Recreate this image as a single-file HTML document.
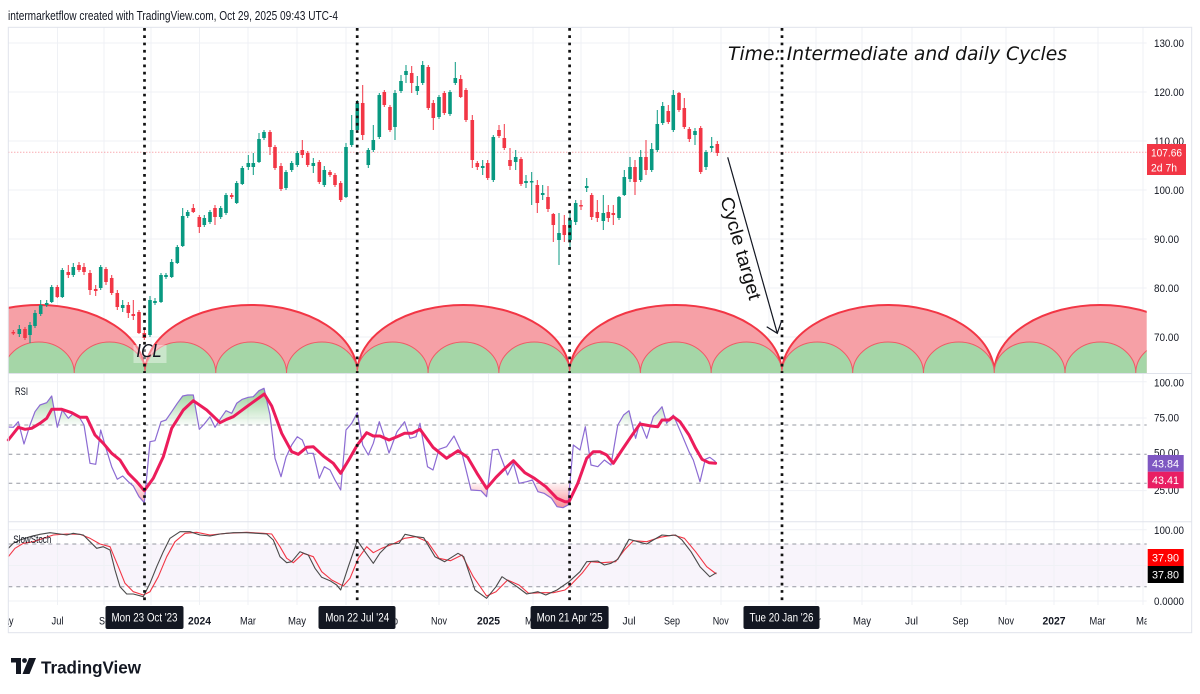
<!DOCTYPE html>
<html><head><meta charset="utf-8"><style>
html,body{margin:0;padding:0;background:#fff;}
svg{display:block;}
</style></head><body>
<svg width="1200" height="694" viewBox="0 0 1200 694" xmlns="http://www.w3.org/2000/svg" font-family="'Liberation Sans', Arial, sans-serif">
<defs>
<clipPath id="cm"><rect x="8.3" y="27.3" width="1138.4" height="346"/></clipPath>
<clipPath id="ca"><rect x="8.3" y="27.3" width="1138.4" height="580"/></clipPath>
<clipPath id="cg"><rect x="8.3" y="374" width="1138.4" height="51"/></clipPath>
<clipPath id="cr"><rect x="8.3" y="483.3" width="1138.4" height="38"/></clipPath>
<clipPath id="ct"><rect x="8.3" y="605" width="1138.4" height="27"/></clipPath>
<linearGradient id="gg" x1="0" y1="386" x2="0" y2="425" gradientUnits="userSpaceOnUse"><stop offset="0" stop-color="#4CAF50" stop-opacity="0.65"/><stop offset="1" stop-color="#4CAF50" stop-opacity="0.03"/></linearGradient>
<linearGradient id="rg" x1="0" y1="483" x2="0" y2="510" gradientUnits="userSpaceOnUse"><stop offset="0" stop-color="#F23645" stop-opacity="0.05"/><stop offset="1" stop-color="#F23645" stop-opacity="0.6"/></linearGradient>
</defs>

<!-- header -->
<text x="8" y="20" font-size="12.5" fill="#131722" textLength="330" lengthAdjust="spacingAndGlyphs">intermarketflow created with TradingView.com, Oct 29, 2025 09:43 UTC-4</text>

<!-- stoch band -->
<rect x="8.3" y="544" width="1138.4" height="42.7" fill="#F8F4FB"/>

<!-- gridlines -->
<g stroke="#EFF1F5" stroke-width="1" clip-path="url(#ca)">
<path d="M57.5 27V605M104 27V605M151 27V605M199.5 27V605M248 27V605M297 27V605M346 27V605M392 27V605M439 27V605M488.5 27V605M533 27V605M581 27V605M629 27V605M673 27V605M721 27V605M769 27V605M816 27V605M862 27V605M912 27V605M961 27V605M1006 27V605M1054 27V605M1098 27V605M1143 27V605"/>
<path d="M8 43H1147M8 92H1147M8 141H1147M8 190H1147M8 239H1147M8 288H1147M8 337H1147M8 381.7H1147M8 418H1147M8 490.6H1147M8 529.8H1147M8 565.5H1147M8 601H1147"/>
</g>

<!-- arcs -->
<g clip-path="url(#cm)">
<path d="M-67.3 373A106.15 68 0 0 1 145 373ZM145 373A106.15 68 0 0 1 357.3 373ZM357.3 373A106.15 68 0 0 1 569.6 373ZM569.6 373A106.15 68 0 0 1 781.9 373ZM781.9 373A106.15 68 0 0 1 994.2 373ZM994.2 373A106.15 68 0 0 1 1206.5 373Z" fill="#F6A0A6"/>
<path d="M-67.3 373A106.15 68 0 0 1 145 373M145 373A106.15 68 0 0 1 357.3 373M357.3 373A106.15 68 0 0 1 569.6 373M569.6 373A106.15 68 0 0 1 781.9 373M781.9 373A106.15 68 0 0 1 994.2 373M994.2 373A106.15 68 0 0 1 1206.5 373" fill="none" stroke="#F23645" stroke-width="2"/>
<path d="M3.46 373A35.385 31 0 0 1 74.23 373ZM74.23 373A35.385 31 0 0 1 145 373ZM145 373A35.385 31 0 0 1 215.77 373ZM215.77 373A35.385 31 0 0 1 286.54 373ZM286.54 373A35.385 31 0 0 1 357.31 373ZM357.31 373A35.385 31 0 0 1 428.08 373ZM428.08 373A35.385 31 0 0 1 498.85 373ZM498.85 373A35.385 31 0 0 1 569.62 373ZM569.62 373A35.385 31 0 0 1 640.39 373ZM640.39 373A35.385 31 0 0 1 711.16 373ZM711.16 373A35.385 31 0 0 1 781.93 373ZM781.93 373A35.385 31 0 0 1 852.7 373ZM852.7 373A35.385 31 0 0 1 923.47 373ZM923.47 373A35.385 31 0 0 1 994.24 373ZM994.24 373A35.385 31 0 0 1 1065.01 373ZM1065.01 373A35.385 31 0 0 1 1135.78 373ZM1135.78 373A35.385 31 0 0 1 1206.55 373Z" fill="#A5D6A7"/>
<path d="M3.46 373A35.385 31 0 0 1 74.23 373M74.23 373A35.385 31 0 0 1 145 373M145 373A35.385 31 0 0 1 215.77 373M215.77 373A35.385 31 0 0 1 286.54 373M286.54 373A35.385 31 0 0 1 357.31 373M357.31 373A35.385 31 0 0 1 428.08 373M428.08 373A35.385 31 0 0 1 498.85 373M498.85 373A35.385 31 0 0 1 569.62 373M569.62 373A35.385 31 0 0 1 640.39 373M640.39 373A35.385 31 0 0 1 711.16 373M711.16 373A35.385 31 0 0 1 781.93 373M781.93 373A35.385 31 0 0 1 852.7 373M852.7 373A35.385 31 0 0 1 923.47 373M923.47 373A35.385 31 0 0 1 994.24 373M994.24 373A35.385 31 0 0 1 1065.01 373M1065.01 373A35.385 31 0 0 1 1135.78 373M1135.78 373A35.385 31 0 0 1 1206.55 373" fill="none" stroke="#EF5A66" stroke-width="1"/>
</g>

<!-- price line -->
<path d="M8.3 152.3H1146.7" stroke="#F23645" stroke-opacity="0.6" stroke-width="1" stroke-dasharray="1 2"/>

<!-- candles -->
<g clip-path="url(#cm)">
<path fill="none" stroke="#089981" stroke-width="1" d="M19.3 325V337M30 322V343M35 310V328M40.7 300V316M46.7 300V307M51.7 285V303M62.3 268V298M73.3 263V277M100.7 265V290M122.7 300V312M150 296V337M155 298V305M161 273V303M166 273V279M171.7 259V278M177.3 245V264M182.7 208V247M187.7 210V218M204.3 215V227M210 210V224M220.7 206V219M226 193V215M236.7 181V204M242.3 166V185M248.3 155V170M253.3 153V175M259 133V163M264 130V140M286 170V190M291.7 161V172M297.3 151V167M313.3 158V173M324.3 166V187M346 143V198M351.7 115V147M357.3 100V132M368.3 148V168M373.3 125V152M379.3 93V139M395 90V140M401 75V93M406 65V83M417.3 76V95M422.7 61V85M439 95V119M450 90V116M455.3 62V85M482.7 160V175M493.3 135V182M515.7 150V170M526 175V188M531.7 172V205M542.7 185V200M559 213V265M570 210V250M575.7 200V225M586.7 178V192M603.3 195V230M619 196V220M624.3 170V196M630 157V182M640.7 150V182M651.7 143V172M657.3 110V152M662.7 102V125M673.3 90V132M695 128V145M706 150V170M711.7 137V152"/>
<path fill="#089981" d="M17.5 329h3.6v5h-3.6zM28.2 325h3.6v10h-3.6zM33.2 313h3.6v13h-3.6zM38.9 305h3.6v9h-3.6zM44.9 303h3.6v2h-3.6zM49.9 287h3.6v15h-3.6zM60.5 270h3.6v27h-3.6zM71.5 267h3.6v8h-3.6zM98.9 267h3.6v21h-3.6zM120.9 305h3.6v3h-3.6zM148.2 300h3.6v35h-3.6zM153.2 301h3.6v2h-3.6zM159.2 275h3.6v27h-3.6zM164.2 275h3.6v2h-3.6zM169.9 262h3.6v15h-3.6zM175.5 247h3.6v16h-3.6zM180.9 216h3.6v30h-3.6zM185.9 212h3.6v4h-3.6zM202.5 218h3.6v7h-3.6zM208.2 212h3.6v10h-3.6zM218.9 208h3.6v9h-3.6zM224.2 195h3.6v18h-3.6zM234.9 183h3.6v20h-3.6zM240.5 168h3.6v16h-3.6zM246.5 163h3.6v4h-3.6zM251.5 163h3.6v4h-3.6zM257.2 139h3.6v23h-3.6zM262.2 132h3.6v6h-3.6zM284.2 172h3.6v16h-3.6zM289.9 163h3.6v7h-3.6zM295.5 153h3.6v12h-3.6zM311.5 163h3.6v3h-3.6zM322.5 170h3.6v15h-3.6zM344.2 147h3.6v50h-3.6zM349.9 130h3.6v15h-3.6zM355.5 103h3.6v27h-3.6zM366.5 150h3.6v15h-3.6zM371.5 140h3.6v10h-3.6zM377.5 95h3.6v42h-3.6zM393.2 93h3.6v34h-3.6zM399.2 81h3.6v10h-3.6zM404.2 71h3.6v4h-3.6zM415.5 86h3.6v5h-3.6zM420.9 65h3.6v18h-3.6zM437.2 97h3.6v20h-3.6zM448.2 92h3.6v22h-3.6zM453.5 78h3.6v5h-3.6zM480.9 166h3.6v2h-3.6zM491.5 137h3.6v43h-3.6zM513.9 157h3.6v5h-3.6zM524.2 181h3.6v2h-3.6zM529.9 181h3.6v1.5h-3.6zM540.9 193h3.6v2h-3.6zM557.2 233h3.6v7h-3.6zM568.2 220h3.6v20h-3.6zM573.9 203h3.6v19h-3.6zM584.9 186h3.6v2h-3.6zM601.5 213h3.6v8h-3.6zM617.2 197h3.6v21h-3.6zM622.5 177h3.6v18h-3.6zM628.2 167h3.6v12h-3.6zM638.9 157h3.6v23h-3.6zM649.9 149h3.6v21h-3.6zM655.5 124h3.6v26h-3.6zM660.9 106h3.6v17h-3.6zM671.5 95h3.6v35h-3.6zM693.2 131h3.6v4h-3.6zM704.2 152h3.6v15h-3.6zM709.9 146h3.6v2h-3.6z"/>
<path fill="none" stroke="#F23645" stroke-width="1" d="M13.3 330V335M25 327V340M57.3 285V298M68.3 265V278M79 262V272M84 263V275M90 270V295M95.7 285V296M106 267V285M111.7 275V295M117.3 290V310M128.3 302V318M133.3 300V320M139 310V334M144.3 330V340M193.3 204V213M199.3 215V233M215 205V225M231.7 193V199M270 130V155M275 145V170M281 163V191M302.3 140V158M307.7 151V167M319.3 160V184M330 170V177M335 173V187M340.7 181V202M362.7 85V140M384.3 90V107M390 105V132M411.7 66V93M428.3 65V110M433.3 100V130M444.3 91V115M460.7 75V98M466 88V122M472.3 115V168M477.3 161V170M487.7 160V180M499 125V138M504.3 124V150M510 148V170M521 157V186M537.3 180V213M548 186V212M553.3 213V242M564.3 215V242M581 200V210M591.7 193V220M597.3 200V222M608.3 205V222M613.3 205V225M635 160V195M646 140V175M668.3 105V124M679 92V112M684.3 98V129M689.3 127V142M700.7 126V174M717.3 141V156"/>
<path fill="#F23645" d="M11.5 332h3.6v1.5h-3.6zM23.2 329h3.6v9h-3.6zM55.5 287h3.6v10h-3.6zM66.5 272h3.6v3h-3.6zM77.2 265h3.6v5h-3.6zM82.2 267h3.6v5h-3.6zM88.2 273h3.6v17h-3.6zM93.9 289h3.6v2h-3.6zM104.2 269h3.6v13h-3.6zM109.9 278h3.6v15h-3.6zM115.5 293h3.6v14h-3.6zM126.5 305h3.6v8h-3.6zM131.5 314h3.6v2h-3.6zM137.2 312h3.6v21h-3.6zM142.5 333h3.6v5h-3.6zM191.5 208h3.6v4h-3.6zM197.5 217h3.6v10h-3.6zM213.2 208h3.6v9h-3.6zM229.9 195h3.6v2h-3.6zM268.2 132h3.6v15h-3.6zM273.2 147h3.6v21h-3.6zM279.2 166h3.6v23h-3.6zM300.5 150h3.6v5h-3.6zM305.9 153h3.6v12h-3.6zM317.5 162h3.6v20h-3.6zM328.2 172h3.6v3h-3.6zM333.2 175h3.6v10h-3.6zM338.9 183h3.6v17h-3.6zM360.9 103h3.6v32h-3.6zM382.5 92h3.6v13h-3.6zM388.2 107h3.6v23h-3.6zM409.9 73h3.6v10h-3.6zM426.5 67h3.6v41h-3.6zM431.5 103h3.6v15h-3.6zM442.5 93h3.6v20h-3.6zM458.9 79h3.6v18h-3.6zM464.2 90h3.6v30h-3.6zM470.5 120h3.6v40h-3.6zM475.5 163h3.6v4h-3.6zM485.9 163h3.6v15h-3.6zM497.2 130h3.6v6h-3.6zM502.5 138h3.6v10h-3.6zM508.2 160h3.6v6h-3.6zM519.2 159h3.6v25h-3.6zM535.5 185h3.6v18h-3.6zM546.2 197h3.6v12h-3.6zM551.5 214h3.6v11h-3.6zM562.5 225h3.6v10h-3.6zM579.2 205h3.6v1.5h-3.6zM589.9 195h3.6v22h-3.6zM595.5 212h3.6v6h-3.6zM606.5 212h3.6v6h-3.6zM611.5 213h3.6v2h-3.6zM633.2 167h3.6v15h-3.6zM644.2 157h3.6v13h-3.6zM666.5 111h3.6v11h-3.6zM677.2 93h3.6v17h-3.6zM682.5 108h3.6v19h-3.6zM687.5 129h3.6v10h-3.6zM698.9 128h3.6v44h-3.6zM715.5 144h3.6v9h-3.6z"/>
</g>

<!-- RSI levels -->
<g stroke="#9598A1" stroke-width="1" stroke-dasharray="4 4" fill="none">
<path d="M8.3 425H1146.7M8.3 454.3H1146.7M8.3 483.3H1146.7"/>
<path d="M8.3 544H1146.7M8.3 586.7H1146.7"/>
</g>

<!-- RSI fills -->
<polygon clip-path="url(#cg)" fill="url(#gg)" points="8.3,427 13.3,427.3 18.3,421.7 24,444 30,425 35,411.7 40,405 46.7,402.7 51.7,396 57.3,427.3 62.3,410 68.3,418.3 73.3,413.3 79,416.7 84,425 90,463.3 95.7,464.3 100.7,430 106,448.3 111.7,466.7 117.3,479.3 122.7,476 128.3,481.7 133.3,486 139,496.7 144.3,502.7 150,441.7 155,440.7 161,421.7 166,420 171.7,411.7 177.3,403.3 182.7,396 187.7,395 193.3,395 199.3,429.3 204.3,424 210,416.7 215,427.3 220.7,418.3 226,410.7 231.7,413.3 236.7,403.3 242.3,399.3 248.3,397.3 253.3,396.7 259,390.7 264,388.3 270,415 275,458.3 281,476.7 286,457.3 291.7,445 297.3,436.7 302.3,440 307.7,453.3 313.3,453.3 319.3,478.3 324.3,466.7 330,470 335,480 340.7,490 346,430 351.7,423.3 357.3,412.7 362.7,445 368.3,455 373.3,443.3 379.3,421.7 384.3,437 389,453 397,431.7 404.6,421.7 410,438.3 416,436.7 420,423.3 427.5,466.7 433,470 439,449.3 446.6,446.7 454,436 462,453.3 471,490 481,490.7 486.6,496.7 492.4,450 498,449.3 507.6,475 513.4,463.3 519,483.3 526.7,481.7 532.4,480 538,491.7 544,493.3 551.5,498.3 557,506.7 563,507.7 568,505 573.3,445 580,450 585.3,426.7 591,465 597.8,466.7 604.4,460 611,465 617.8,425 623.6,415 629,410.7 635.6,438.3 640,421.7 646.7,438.3 653.3,416.7 657.8,411.7 662,406.7 666.7,423.3 673.3,415 682,435 689,451.7 693.3,460 700,481.7 705.3,459.3 709.8,457.3 715.6,461.7 715.6,600 8.3,600"/>
<polygon clip-path="url(#cr)" fill="url(#rg)" points="8.3,427 13.3,427.3 18.3,421.7 24,444 30,425 35,411.7 40,405 46.7,402.7 51.7,396 57.3,427.3 62.3,410 68.3,418.3 73.3,413.3 79,416.7 84,425 90,463.3 95.7,464.3 100.7,430 106,448.3 111.7,466.7 117.3,479.3 122.7,476 128.3,481.7 133.3,486 139,496.7 144.3,502.7 150,441.7 155,440.7 161,421.7 166,420 171.7,411.7 177.3,403.3 182.7,396 187.7,395 193.3,395 199.3,429.3 204.3,424 210,416.7 215,427.3 220.7,418.3 226,410.7 231.7,413.3 236.7,403.3 242.3,399.3 248.3,397.3 253.3,396.7 259,390.7 264,388.3 270,415 275,458.3 281,476.7 286,457.3 291.7,445 297.3,436.7 302.3,440 307.7,453.3 313.3,453.3 319.3,478.3 324.3,466.7 330,470 335,480 340.7,490 346,430 351.7,423.3 357.3,412.7 362.7,445 368.3,455 373.3,443.3 379.3,421.7 384.3,437 389,453 397,431.7 404.6,421.7 410,438.3 416,436.7 420,423.3 427.5,466.7 433,470 439,449.3 446.6,446.7 454,436 462,453.3 471,490 481,490.7 486.6,496.7 492.4,450 498,449.3 507.6,475 513.4,463.3 519,483.3 526.7,481.7 532.4,480 538,491.7 544,493.3 551.5,498.3 557,506.7 563,507.7 568,505 573.3,445 580,450 585.3,426.7 591,465 597.8,466.7 604.4,460 611,465 617.8,425 623.6,415 629,410.7 635.6,438.3 640,421.7 646.7,438.3 653.3,416.7 657.8,411.7 662,406.7 666.7,423.3 673.3,415 682,435 689,451.7 693.3,460 700,481.7 705.3,459.3 709.8,457.3 715.6,461.7 715.6,370 8.3,370"/>

<!-- RSI lines -->
<polyline fill="none" stroke="#8C6BD3" stroke-width="1.2" stroke-linejoin="round" points="8.3,427 13.3,427.3 18.3,421.7 24,444 30,425 35,411.7 40,405 46.7,402.7 51.7,396 57.3,427.3 62.3,410 68.3,418.3 73.3,413.3 79,416.7 84,425 90,463.3 95.7,464.3 100.7,430 106,448.3 111.7,466.7 117.3,479.3 122.7,476 128.3,481.7 133.3,486 139,496.7 144.3,502.7 150,441.7 155,440.7 161,421.7 166,420 171.7,411.7 177.3,403.3 182.7,396 187.7,395 193.3,395 199.3,429.3 204.3,424 210,416.7 215,427.3 220.7,418.3 226,410.7 231.7,413.3 236.7,403.3 242.3,399.3 248.3,397.3 253.3,396.7 259,390.7 264,388.3 270,415 275,458.3 281,476.7 286,457.3 291.7,445 297.3,436.7 302.3,440 307.7,453.3 313.3,453.3 319.3,478.3 324.3,466.7 330,470 335,480 340.7,490 346,430 351.7,423.3 357.3,412.7 362.7,445 368.3,455 373.3,443.3 379.3,421.7 384.3,437 389,453 397,431.7 404.6,421.7 410,438.3 416,436.7 420,423.3 427.5,466.7 433,470 439,449.3 446.6,446.7 454,436 462,453.3 471,490 481,490.7 486.6,496.7 492.4,450 498,449.3 507.6,475 513.4,463.3 519,483.3 526.7,481.7 532.4,480 538,491.7 544,493.3 551.5,498.3 557,506.7 563,507.7 568,505 573.3,445 580,450 585.3,426.7 591,465 597.8,466.7 604.4,460 611,465 617.8,425 623.6,415 629,410.7 635.6,438.3 640,421.7 646.7,438.3 653.3,416.7 657.8,411.7 662,406.7 666.7,423.3 673.3,415 682,435 689,451.7 693.3,460 700,481.7 705.3,459.3 709.8,457.3 715.6,461.7"/>
<polyline fill="none" stroke="#EC1C5B" stroke-width="3" stroke-linejoin="round" stroke-linecap="round" points="8.3,440 18.3,427.3 25,429.3 31.7,428.3 40,423.3 46.7,418.3 51.7,409.3 61.7,409.3 71.7,412.7 80,417.3 86.7,417.3 95,435 103.3,443.3 111.7,453.3 120,460 128.3,473.3 136.7,481.7 144.3,490.7 153.3,478.3 163.3,456.7 171.7,428.3 183.3,410 193.3,400.7 206.7,410 220,422.7 226.7,419.3 233.3,416.7 246.7,406.7 264.3,394 271.7,406 281.7,433.3 291.7,451.7 298.3,454.3 306.7,447.3 313.3,446.7 323.3,456 333.3,463.3 340.7,473.3 348.3,460.7 357.3,445 366.7,432.7 373.3,436 380,436 389,440 397,436.7 404.6,433.3 412,433.3 420,429.3 433,447.3 446.6,458.3 458,450.7 467.6,457.3 477,473.3 486.6,488.3 496,477.3 504,469.3 513.4,460.7 524.8,472.7 534.4,478.3 545.8,486.7 557,498.3 565,501.7 569,501.7 577.8,483.3 586.7,458.3 593.3,451.7 600,451.7 606.7,455 613.3,463.3 622,450 631,436.7 640,424 651,426 657.8,426.7 662,420 669,420 673.3,416.7 680,421.7 689,435 695.6,448.3 702,459.3 709,462.7 715.6,463.3"/>

<!-- Stoch lines -->
<polyline fill="none" stroke="#F23645" stroke-width="1.1" stroke-linejoin="round" points="8.3,556.7 15,548.3 23.3,543.3 33.3,541.7 43.3,538.3 53.3,535 66.7,534 80,534.3 90,538.3 100,544 110,546.7 118.3,566.7 125,583.3 133.3,591.7 143.3,595 150,591.7 158.3,576.7 166.7,556.7 175,541.7 185,533.3 196.7,532.3 210,535 226.7,533.3 246.7,532.3 263.3,533.3 271.7,534 280,546.7 286.7,558.3 293.3,562.7 303.3,553.3 313.3,556.7 321.7,571.7 331.7,580 343.3,586 350,578.3 358.3,558.3 366.7,546.7 373.3,552.7 381.7,548.3 393,544 404.6,538.3 416,536.7 427.5,541.7 439,558.3 450.4,560.7 462,555 473.3,576.7 486.6,596 496,591.7 507.6,580 519,585 528.6,593.3 542,592.7 553.4,592.7 565,590 569,586.7 582,573.3 591,561.7 602,562.7 615.6,561.7 624.4,550 633.3,540.7 646.7,541.7 660,537.3 673.3,535 684.4,538.3 695.6,551.7 706.7,566.7 716.4,574"/>
<polyline fill="none" stroke="#4A4A4A" stroke-width="1.1" stroke-linejoin="round" points="8.3,548.3 13.3,543.3 20,540 30,536.7 40,534.3 50,532.7 60,534 66.7,535 73.3,533.3 83.3,535 90,541.7 96.7,548.3 103.3,546.7 110,550 115,570 120,586.7 126.7,594 133.3,594 143.3,596.7 150,583.3 156.7,566.7 163.3,551.7 170,538.3 180,531.7 190,531.7 200,535 210,536 220,534 233.3,532.7 246.7,532.7 256.7,533.3 266.7,534 273.3,540 280,556.7 286.7,562.7 291.7,561.7 300,551.7 308.3,555 315,568.3 321.7,577.3 330,580.7 336.7,585 340.7,590 348.3,566.7 357.3,540.7 365,551.7 373.3,563.3 380,553 389,544 399,543.3 405,534.3 416,536.7 423.7,537.7 435,556.7 444.7,561.7 458,553.3 463.7,556.7 475,590 486.6,598.3 496,586.7 502,576.7 509.5,581.7 517,586.7 526.7,594 538,591.7 545.8,595 557,590 569,581.7 580,571.7 586.7,561.7 597.8,561 604.4,565 611,563.3 617.8,559.3 629,539.3 637.8,541.7 646.7,544 653.3,540 662,535 669,535.7 675.6,535 682,540 691,551.7 700,566.7 709.8,576.7 716.4,572.7"/>

<!-- pane labels -->
<text x="15" y="395" font-size="11" fill="#131722" textLength="13" lengthAdjust="spacingAndGlyphs">RSI</text>
<text x="13.3" y="543" font-size="11" fill="#131722" textLength="38" lengthAdjust="spacingAndGlyphs">SlowStoch</text>

<!-- vertical dotted lines -->
<path d="M144.5 28V604M357.2 28V604M569.6 28V604M782 28V604" stroke="#111" stroke-width="2.7" stroke-dasharray="2.7 4.6" fill="none"/>

<!-- ICL -->
<rect x="133.5" y="345" width="33" height="18" fill="#fff" fill-opacity="0.4"/>
<text x="136.5" y="357" font-family="'DejaVu Sans', 'Liberation Sans', sans-serif" font-size="18" font-style="italic" fill="#131722" textLength="25" lengthAdjust="spacingAndGlyphs">ICL</text>

<!-- title -->
<text x="728" y="60" font-family="'DejaVu Sans', 'Liberation Sans', sans-serif" font-size="19" font-style="italic" fill="#111" textLength="339" lengthAdjust="spacingAndGlyphs">Time: Intermediate and daily Cycles</text>

<!-- arrow -->
<path d="M727.7 157.3L777.3 333.3M766.7 326.7L777.3 333.3L781.7 320.5" fill="none" stroke="#131722" stroke-width="1.2"/>
<text transform="translate(720.3,199) rotate(74)" font-size="18.5" fill="#111" textLength="106" lengthAdjust="spacingAndGlyphs">Cycle target</text>

<!-- borders & separators -->
<g stroke="#E0E3EB" stroke-width="1" fill="none">
<rect x="8.3" y="27.3" width="1183.4" height="605.4"/>
<path d="M8.3 373.5H1191.7M8.3 521.7H1191.7"/>
</g>

<!-- price axis labels -->
<g font-size="11" fill="#131722">
<text x="1154" y="47" textLength="30" lengthAdjust="spacingAndGlyphs">130.00</text>
<text x="1154" y="96" textLength="30" lengthAdjust="spacingAndGlyphs">120.00</text>
<text x="1154" y="145" textLength="30" lengthAdjust="spacingAndGlyphs">110.00</text>
<text x="1154" y="194" textLength="30" lengthAdjust="spacingAndGlyphs">100.00</text>
<text x="1154" y="243" textLength="25" lengthAdjust="spacingAndGlyphs">90.00</text>
<text x="1154" y="292" textLength="25" lengthAdjust="spacingAndGlyphs">80.00</text>
<text x="1154" y="341" textLength="25" lengthAdjust="spacingAndGlyphs">70.00</text>
<text x="1154" y="386.7" textLength="30" lengthAdjust="spacingAndGlyphs">100.00</text>
<text x="1154" y="421.7" textLength="25" lengthAdjust="spacingAndGlyphs">75.00</text>
<text x="1154" y="456.7" textLength="25" lengthAdjust="spacingAndGlyphs">50.00</text>
<text x="1154" y="494" textLength="25" lengthAdjust="spacingAndGlyphs">25.00</text>
<text x="1154" y="534" textLength="30" lengthAdjust="spacingAndGlyphs">100.00</text>
<text x="1154" y="605" textLength="30" lengthAdjust="spacingAndGlyphs">0.0000</text>
</g>

<!-- value boxes -->
<rect x="1147" y="144" width="39" height="31" fill="#F23645"/>
<text x="1151" y="156.5" font-size="11" fill="#fff" textLength="31" lengthAdjust="spacingAndGlyphs">107.66</text>
<text x="1151" y="171.5" font-size="11" fill="#fff" textLength="26" lengthAdjust="spacingAndGlyphs">2d 7h</text>
<rect x="1147.7" y="455" width="36" height="16.7" fill="#7E57C2"/>
<text x="1152" y="467.5" font-size="11" fill="#fff" textLength="27" lengthAdjust="spacingAndGlyphs">43.84</text>
<rect x="1147.7" y="471.7" width="36" height="16.6" fill="#E91E63"/>
<text x="1152" y="484" font-size="11" fill="#fff" textLength="27" lengthAdjust="spacingAndGlyphs">43.41</text>
<rect x="1147.7" y="549" width="36" height="17" fill="#FF0000"/>
<text x="1152" y="561.5" font-size="11" fill="#fff" textLength="27" lengthAdjust="spacingAndGlyphs">37.90</text>
<rect x="1147.7" y="566" width="36" height="17" fill="#000"/>
<text x="1152" y="578.5" font-size="11" fill="#fff" textLength="27" lengthAdjust="spacingAndGlyphs">37.80</text>

<!-- time axis labels -->
<g clip-path="url(#ct)" font-size="11" fill="#131722" text-anchor="middle">
<text x="5" y="624.7" textLength="17" lengthAdjust="spacingAndGlyphs">May</text>
<text x="57.5" y="624.7" textLength="12" lengthAdjust="spacingAndGlyphs">Jul</text>
<text x="107" y="624.7" textLength="16" lengthAdjust="spacingAndGlyphs">Sep</text>
<text x="151" y="624.7" textLength="16" lengthAdjust="spacingAndGlyphs">Nov</text>
<text x="199.5" y="624.7" font-weight="bold" textLength="23" lengthAdjust="spacingAndGlyphs">2024</text>
<text x="248" y="624.7" textLength="16" lengthAdjust="spacingAndGlyphs">Mar</text>
<text x="297" y="624.7" textLength="18" lengthAdjust="spacingAndGlyphs">May</text>
<text x="346" y="624.7" textLength="12" lengthAdjust="spacingAndGlyphs">Jul</text>
<text x="390" y="624.7" textLength="16" lengthAdjust="spacingAndGlyphs">Sep</text>
<text x="439" y="624.7" textLength="16" lengthAdjust="spacingAndGlyphs">Nov</text>
<text x="488.5" y="624.7" font-weight="bold" textLength="23" lengthAdjust="spacingAndGlyphs">2025</text>
<text x="533" y="624.7" textLength="16" lengthAdjust="spacingAndGlyphs">Mar</text>
<text x="581" y="624.7" textLength="18" lengthAdjust="spacingAndGlyphs">May</text>
<text x="629" y="624.7" textLength="13" lengthAdjust="spacingAndGlyphs">Jul</text>
<text x="672" y="624.7" textLength="16" lengthAdjust="spacingAndGlyphs">Sep</text>
<text x="720.7" y="624.7" textLength="16" lengthAdjust="spacingAndGlyphs">Nov</text>
<text x="769" y="624.7" font-weight="bold" textLength="23" lengthAdjust="spacingAndGlyphs">2026</text>
<text x="813" y="624.7" textLength="16" lengthAdjust="spacingAndGlyphs">Mar</text>
<text x="862" y="624.7" textLength="18" lengthAdjust="spacingAndGlyphs">May</text>
<text x="911.5" y="624.7" textLength="13" lengthAdjust="spacingAndGlyphs">Jul</text>
<text x="960.5" y="624.7" textLength="16" lengthAdjust="spacingAndGlyphs">Sep</text>
<text x="1006" y="624.7" textLength="16" lengthAdjust="spacingAndGlyphs">Nov</text>
<text x="1054" y="624.7" font-weight="bold" textLength="23" lengthAdjust="spacingAndGlyphs">2027</text>
<text x="1097.5" y="624.7" textLength="16" lengthAdjust="spacingAndGlyphs">Mar</text>
<text x="1145" y="624.7" textLength="18" lengthAdjust="spacingAndGlyphs">May</text>
</g>

<!-- date boxes -->
<g font-size="11.5" fill="#fff" text-anchor="middle">
<rect x="105.5" y="606" width="78" height="23" rx="2" fill="#131722"/>
<text x="144.5" y="621.5" textLength="66" lengthAdjust="spacingAndGlyphs">Mon 23 Oct '23</text>
<rect x="318.5" y="606" width="77" height="23" rx="2" fill="#131722"/>
<text x="357.2" y="621.5" textLength="64" lengthAdjust="spacingAndGlyphs">Mon 22 Jul '24</text>
<rect x="530.6" y="606" width="78" height="23" rx="2" fill="#131722"/>
<text x="569.6" y="621.5" textLength="66" lengthAdjust="spacingAndGlyphs">Mon 21 Apr '25</text>
<rect x="743.5" y="606" width="76" height="23" rx="2" fill="#131722"/>
<text x="781.5" y="621.5" textLength="64" lengthAdjust="spacingAndGlyphs">Tue 20 Jan '26</text>
</g>

<!-- logo -->
<g fill="#131722">
<path d="M11 658h10v16h-5v-11.5h-5z"/>
<circle cx="24.5" cy="660.5" r="2.4"/>
<path d="M29 658h7l-6.5 16h-7z"/>
<text x="41" y="673.5" font-size="17.5" font-weight="bold" textLength="100" lengthAdjust="spacingAndGlyphs">TradingView</text>
</g>
</svg>
</body></html>
